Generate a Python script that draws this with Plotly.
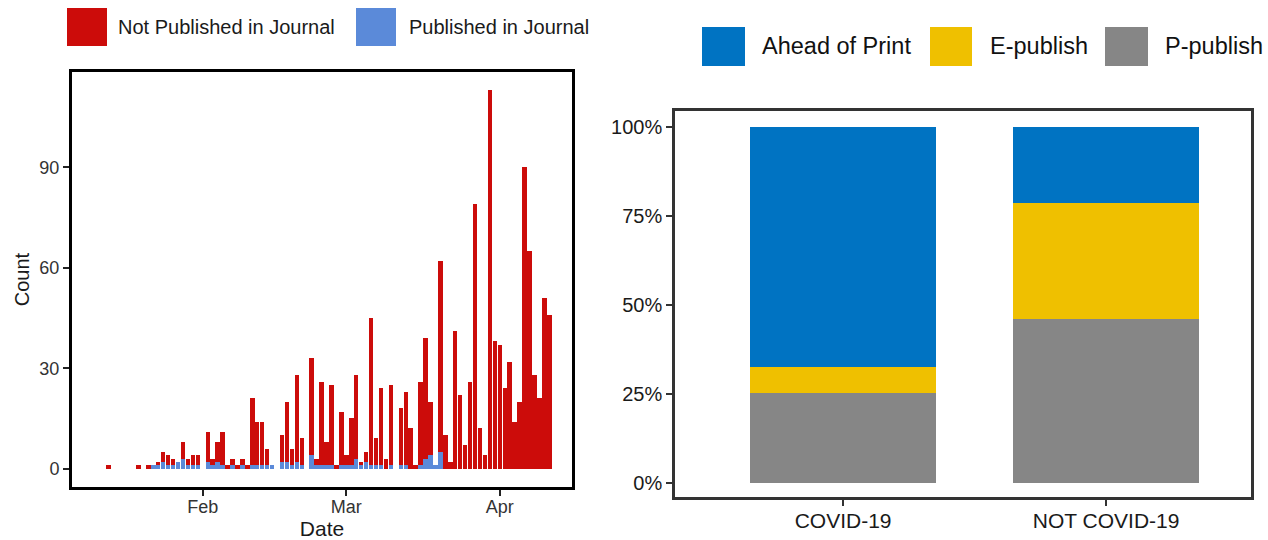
import pandas as pd
import plotly.graph_objects as go

# ---------------- Left chart data (daily counts, 2020-01-13 .. 2020-04-11) ----------------
dates = pd.date_range("2020-01-13", "2020-04-11", freq="D")

not_published_jan = [1, 0, 0, 0, 0, 0, 1, 0, 1, 0, 1, 3, 3, 2, 0, 5, 2, 3, 3]
published_jan = [0, 0, 0, 0, 0, 0, 0, 0, 0, 1, 1, 2, 1, 1, 2, 3, 1, 1, 1]

not_published_feb = [0, 9, 2, 6, 10, 1, 2, 1, 2, 1, 20, 13, 13, 5, 0, 0, 8, 18, 5, 26,
                     8, 0, 29, 2, 25, 7, 24, 1, 16]
published_feb = [0, 2, 1, 2, 1, 0, 1, 0, 1, 0, 1, 1, 1, 1, 1, 0, 2, 2, 1, 2,
                 1, 0, 4, 1, 1, 1, 1, 0, 1]

not_published_mar = [3, 14, 25, 1, 3, 44, 8, 23, 3, 24, 0, 17, 22, 12, 1, 25, 36, 16, 0, 57,
                     10, 2, 41, 22, 7, 26, 79, 12, 4, 113, 38]
published_mar = [1, 1, 3, 1, 2, 1, 1, 1, 0, 1, 0, 1, 1, 0, 0, 1, 3, 4, 1, 5,
                 0, 0, 0, 0, 0, 0, 0, 0, 0, 0, 0]

not_published_apr = [37, 24, 32, 14, 20, 90, 65, 28, 21, 51, 46]
published_apr = [0, 0, 0, 0, 0, 0, 0, 0, 0, 0, 0]

not_published = not_published_jan + not_published_feb + not_published_mar + not_published_apr
published = published_jan + published_feb + published_mar + published_apr

month_ticks = ["2020-02-01", "2020-03-01", "2020-04-01"]
month_labels = ["Feb", "Mar", "Apr"]
count_ticks = [0, 30, 60, 90]

# ---------------- Right chart data (proportions) ----------------
groups = ["COVID-19", "NOT COVID-19"]
p_publish = [0.253, 0.460]
e_publish = [0.073, 0.326]
ahead_of_print = [0.674, 0.214]
pct_ticks = [0, 0.25, 0.5, 0.75, 1.0]
pct_labels = ["0%", "25%", "50%", "75%", "100%"]

RED = "#CC0C0A"
LBLUE = "#5B8AD9"
JBLUE = "#0073C2"
JYEL = "#EFC000"
JGRAY = "#868686"

W, H = 1268, 540
FONT = "Liberation Sans"

fig = go.Figure()

day_ms = 86400000
fig.add_trace(go.Bar(x=dates, y=published, name="Published in Journal",
                     marker=dict(color=LBLUE, line=dict(width=0)),
                     width=0.9 * day_ms, xaxis="x", yaxis="y", showlegend=False))
fig.add_trace(go.Bar(x=dates, y=not_published, name="Not Published in Journal",
                     marker=dict(color=RED, line=dict(width=0)),
                     width=0.9 * day_ms, xaxis="x", yaxis="y", showlegend=False))

fig.add_trace(go.Bar(x=groups, y=p_publish, name="P-publish", marker=dict(color=JGRAY, line=dict(width=0)),
                     width=0.71, xaxis="x2", yaxis="y2", showlegend=False))
fig.add_trace(go.Bar(x=groups, y=e_publish, name="E-publish", marker=dict(color=JYEL, line=dict(width=0)),
                     width=0.71, xaxis="x2", yaxis="y2", showlegend=False))
fig.add_trace(go.Bar(x=groups, y=ahead_of_print, name="Ahead of Print", marker=dict(color=JBLUE, line=dict(width=0)),
                     width=0.71, xaxis="x2", yaxis="y2", showlegend=False))


def px(x):
    return x / W


def py(y):
    return 1 - y / H


fig.update_layout(
    width=W, height=H,
    margin=dict(l=0, r=0, t=0, b=0),
    paper_bgcolor="white", plot_bgcolor="white",
    barmode="stack", bargap=0,
    font=dict(family=FONT, color="#1a1a1a"),
    xaxis=dict(domain=[px(72), px(572)], type="date",
               range=["2020-01-05 14:00", "2020-04-15 14:00"],
               tickvals=month_ticks, ticktext=month_labels,
               ticks="outside", ticklen=6, tickwidth=1.5, tickcolor="#222",
               ticklabelstandoff=-5,
               showline=True, linecolor="black", linewidth=3, mirror=True,
               showgrid=False, zeroline=False,
               tickfont=dict(size=18, color="#333"),
               title=dict(text="Date", font=dict(size=21, color="#1a1a1a"), standoff=8)),
    yaxis=dict(domain=[py(487), py(72)], range=[-5.5, 118.5],
               tickvals=count_ticks,
               ticks="outside", ticklen=6, tickwidth=1.5, tickcolor="#222",
               showline=True, linecolor="black", linewidth=3, mirror=True,
               showgrid=False, zeroline=False,
               tickfont=dict(size=18, color="#333"),
               title=dict(text="Count", font=dict(size=20, color="#1a1a1a"), standoff=5)),
    xaxis2=dict(domain=[px(675), px(1251)], anchor="y2", type="category",
                range=[-0.639, 1.551],
                ticks="outside", ticklen=6, tickwidth=2, tickcolor="#333",
                ticklabelstandoff=-3,
                showline=True, linecolor="#333", linewidth=2.5, mirror=True,
                showgrid=False, zeroline=False,
                tickfont=dict(size=21, color="#1a1a1a")),
    yaxis2=dict(domain=[py(497), py(111)], anchor="x2", range=[-0.0393, 1.045],
                tickvals=pct_ticks, ticktext=pct_labels,
                ticks="outside", ticklen=6, tickwidth=2, tickcolor="#333",
                showline=True, linecolor="#333", linewidth=2.5, mirror=True,
                showgrid=False, zeroline=False,
                tickfont=dict(size=20, color="#1a1a1a")),
)

# ---- manual legends (large swatches like the reference) ----
shapes = []
annots = []
left_leg = [("Not Published in Journal", RED, 67, 107, 116),
            ("Published in Journal", LBLUE, 356, 396, 407)]
for name, col, x0, x1, tx in left_leg:
    shapes.append(dict(type="rect", xref="paper", yref="paper", x0=px(x0), x1=px(x1),
                       y0=py(46), y1=py(8), fillcolor=col, line=dict(width=0)))
    annots.append(dict(text=name, xref="paper", yref="paper", x=px(tx), y=py(27),
                       xanchor="left", yanchor="middle", showarrow=False,
                       font=dict(size=20, color="#1a1a1a", family=FONT)))
right_leg = [("Ahead of Print", JBLUE, 702, 745, 760),
             ("E-publish", JYEL, 930, 972, 988),
             ("P-publish", JGRAY, 1105, 1148, 1163)]
for name, col, x0, x1, tx in right_leg:
    shapes.append(dict(type="rect", xref="paper", yref="paper", x0=px(x0), x1=px(x1),
                       y0=py(66), y1=py(27), fillcolor=col, line=dict(width=0)))
    annots.append(dict(text=name, xref="paper", yref="paper", x=px(tx), y=py(46),
                       xanchor="left", yanchor="middle", showarrow=False,
                       font=dict(size=23.5, color="#111", family=FONT)))

fig.update_layout(shapes=shapes, annotations=annots)

fig.write_html("out.html", config={"displayModeBar": False},
               post_script="document.body.style.margin='0px';document.body.style.overflow='hidden';")
